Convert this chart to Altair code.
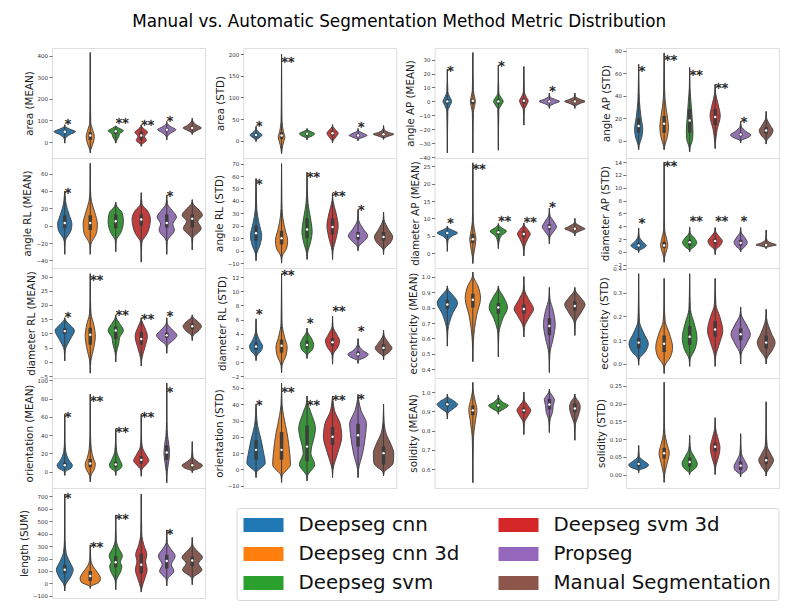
import altair as alt
import pandas as pd

TITLE = "Manual vs. Automatic Segmentation Method Metric Distribution"
METHODS = ["Deepseg cnn", "Deepseg cnn 3d", "Deepseg svm", "Deepseg svm 3d",
           "Propseg", "Manual Segmentation"]
VIOLIN_FILL = ["#3274a1", "#e1812c", "#3a923a", "#c03d3e", "#9372b2", "#845b53"]
LEGEND_FILL = ["#1f77b4", "#ff7f0e", "#2ca02c", "#d62728", "#9467bd", "#8c564b"]

# Each violin: (lower tip, [(value, half-width), ...], upper tip)
# Each box: (q1, median, q3)

# ---- area (MEAN)
AREA_MEAN_SHAPE = [
    (-5, [(15, .02), (35, .2), (48, .42), (60, .2), (72, .02)], 80),
    (-50, [(-35, .02), (-10, .1), (25, .16), (55, .1), (90, .02), (150, .012)], 415),
    (-5, [(5, .02), (25, .12), (38, .15), (52, .3), (65, .12), (72, .02)], 75),
    (-20, [(-12, .02), (8, .2), (26, .13), (45, .25), (62, .1), (72, .02)], 80),
    (10, [(25, .02), (45, .2), (57, .36), (70, .18), (85, .02)], 95),
    (35, [(42, .02), (55, .2), (65, .36), (78, .18), (98, .02)], 110),
]
AREA_MEAN_BOX = [(42, 48, 55), (10, 30, 45), (38, 50, 58), (10, 30, 48), (50, 57, 64), (58, 65, 72)]
AREA_MEAN_STARS = ["*", "", "**", "**", "*", ""]
AREA_MEAN_STAR_Y = [99, None, 105, 97, 116, None]
AREA_MEAN_TICKS = [0, 100, 200, 300, 400]

# ---- area (STD)
AREA_STD_SHAPE = [
    (-2, [(2, .02), (8, .15), (13, .24), (19, .12), (26, .02)], 33),
    (-30, [(-20, .02), (-3, .08), (8, .13), (22, .07), (45, .02), (80, .01)], 200),
    (2, [(6, .02), (11, .2), (16, .3), (21, .15), (25, .02)], 28),
    (-5, [(0, .02), (9, .14), (17, .22), (25, .12), (32, .02)], 37),
    (0, [(3, .02), (8, .2), (12, .35), (17, .2), (23, .02)], 28),
    (3, [(6, .02), (11, .22), (15, .4), (19, .2), (27, .02)], 35),
]
AREA_STD_BOX = [(9, 13, 17), (4, 12, 20), (12, 16, 19), (12, 17, 22), (9, 12, 15), (12, 15, 18)]
AREA_STD_STARS = ["*", "**", "", "", "*", ""]
AREA_STD_STAR_Y = [43, 189, None, None, 39, None]
AREA_STD_TICKS = [0, 50, 100, 150, 200]

# ---- angle AP (MEAN)
ANGLE_AP_MEAN_SHAPE = [
    (-37, [(-7, .02), (-3, .1), (0, .17), (3, .1), (7, .02)], 23),
    (-37, [(-8, .02), (-3, .07), (0, .1), (3, .07), (8, .02)], 35),
    (-35, [(-6, .02), (-2.5, .12), (0, .19), (2.5, .12), (6, .02)], 26),
    (-17, [(-6, .02), (-2.5, .11), (0.5, .17), (3, .1), (7, .02)], 25),
    (-5, [(-3.5, .02), (-1.5, .2), (0, .4), (1.5, .2), (3.5, .02)], 6),
    (-5, [(-3.5, .02), (-1.5, .2), (0, .4), (1.5, .2), (3.5, .02)], 6),
]
ANGLE_AP_MEAN_BOX = [(-1.5, 0, 1.5), (-2, 0.5, 2), (-1.5, 0, 1.5), (-1.5, 0.5, 2), (-1, 0, 1), (-1, 0, 1)]
ANGLE_AP_MEAN_STARS = ["*", "", "*", "", "*", ""]
ANGLE_AP_MEAN_STAR_Y = [24.6, None, 28.2, None, 10.3, None]
ANGLE_AP_MEAN_TICKS = [-40, -30, -20, -10, 0, 10, 20, 30]

# ---- angle AP (STD)
ANGLE_AP_STD_SHAPE = [
    (-8, [(-4, .02), (3, .12), (10, .16), (20, .1), (35, .03), (50, .012)], 68),
    (-8, [(-5, .02), (3, .12), (12, .17), (22, .12), (38, .03), (55, .012)], 78),
    (-10, [(-6, .02), (2, .12), (8, .13), (20, .1), (35, .05), (48, .012)], 65),
    (-7, [(0, .02), (10, .08), (22, .2), (32, .12), (42, .02)], 50),
    (-2, [(0, .02), (3, .3), (5, .4), (8, .22), (13, .02)], 17),
    (-3, [(0, .02), (5, .2), (9, .27), (14, .15), (20, .02)], 26),
]
ANGLE_AP_STD_BOX = [(7, 13, 20), (7, 15, 22), (7, 18, 28), (14, 21, 28), (4, 5.5, 7), (6, 9, 12)]
ANGLE_AP_STD_STARS = ["*", "**", "**", "**", "*", ""]
ANGLE_AP_STD_STAR_Y = [65.5, 75, 61.6, 49.8, 20, None]
ANGLE_AP_STD_TICKS = [0, 20, 40, 60, 80]

# ---- angle RL (MEAN)
ANGLE_RL_MEAN_SHAPE = [
    (-33, [(-18, .02), (-5, .25), (2, .28), (12, .18), (25, .05), (33, .02)], 40),
    (-33, [(-22, .02), (-8, .25), (2, .28), (15, .18), (28, .05), (40, .012)], 72),
    (-30, [(-17, .02), (-8, .2), (5, .3), (15, .25), (22, .05)], 27),
    (-42, [(-20, .02), (-8, .25), (8, .36), (17, .25), (25, .03)], 38),
    (-33, [(-18, .02), (-5, .3), (2, .24), (10, .38), (18, .2), (25, .03)], 35),
    (-28, [(-15, .02), (-3, .35), (5, .22), (12, .4), (20, .2), (26, .02)], 30),
]
ANGLE_RL_MEAN_BOX = [(-3, 3, 12), (-5, 3, 12), (-3, 5, 13), (0, 7, 13), (-2, 3, 13), (-2, 8, 13)]
ANGLE_RL_MEAN_STARS = ["*", "", "", "", "*", ""]
ANGLE_RL_MEAN_STAR_Y = [41.5, None, None, None, 37.7, None]
ANGLE_RL_MEAN_TICKS = [-40, -20, 0, 20, 40, 60]

# ---- angle RL (STD)
ANGLE_RL_STD_SHAPE = [
    (-8, [(-3, .02), (5, .16), (12, .22), (22, .12), (33, .03), (45, .012)], 58),
    (-10, [(-5, .02), (2, .2), (8, .24), (17, .14), (28, .04), (40, .012)], 70),
    (-7, [(-2, .02), (8, .15), (15, .2), (28, .12), (38, .04), (50, .012)], 63),
    (-7, [(0, .02), (10, .14), (20, .22), (30, .14), (40, .02)], 46),
    (0, [(3, .02), (8, .25), (12, .38), (17, .22), (25, .02)], 33),
    (-3, [(1, .02), (6, .25), (11, .36), (17, .2), (25, .02)], 31),
]
ANGLE_RL_STD_BOX = [(8, 14, 20), (5, 10, 16), (10, 17, 26), (13, 19, 26), (9, 12, 15), (8, 11, 15)]
ANGLE_RL_STD_STARS = ["*", "", "**", "**", "*", ""]
ANGLE_RL_STD_STAR_Y = [56.5, None, 61.9, 46.4, 35.6, None]
ANGLE_RL_STD_TICKS = [-10, 0, 10, 20, 30, 40, 50, 60, 70]

# ---- diameter AP (MEAN)
DIAM_AP_MEAN_SHAPE = [
    (0.5, [(3.5, .02), (5, .2), (5.8, .4), (6.6, .2), (7.3, .02)], 7.8),
    (-3, [(-1, .02), (2, .09), (4, .12), (6, .08), (9, .02), (12, .01)], 26),
    (1.3, [(3, .02), (5, .12), (6.3, .32), (7.2, .15), (8, .02)], 8.5),
    (-0.8, [(1.5, .02), (4, .15), (5.5, .25), (6.8, .15), (8, .02)], 8.7),
    (2.7, [(4.5, .02), (6.5, .2), (7.5, .28), (9, .18), (11, .02)], 13),
    (5, [(5.6, .02), (6.5, .25), (7, .4), (7.6, .25), (8.8, .02)], 10),
]
DIAM_AP_MEAN_BOX = [(5.4, 5.8, 6.2), (2.8, 4, 5.5), (5.3, 6, 6.6), (4.5, 5.5, 6.3), (6.7, 7.5, 8.3), (6.6, 7, 7.4)]
DIAM_AP_MEAN_STARS = ["*", "**", "**", "**", "*", ""]
DIAM_AP_MEAN_STAR_Y = [9.6, 25.3, 10.3, 9.9, 14.4, None]
DIAM_AP_MEAN_TICKS = [0, 5, 10, 15, 20, 25]

# ---- diameter AP (STD)
DIAM_AP_STD_SHAPE = [
    (-0.1, [(0.2, .02), (0.6, .2), (1, .3), (1.6, .15), (2.5, .02)], 3.7),
    (-1.6, [(-0.8, .02), (0.3, .1), (1, .14), (2, .1), (3.5, .02), (6, .01)], 14),
    (0, [(0.3, .02), (0.9, .2), (1.5, .28), (2.1, .2), (3, .02)], 3.9),
    (-0.4, [(0.3, .02), (1, .2), (1.7, .28), (2.4, .16), (3.2, .02)], 3.8),
    (0, [(0.3, .02), (0.9, .18), (1.5, .26), (2.2, .17), (3.1, .02)], 3.8),
    (0.5, [(0.7, .02), (0.95, .25), (1.1, .4), (1.35, .22), (2, .02)], 3.4),
]
DIAM_AP_STD_BOX = [(0.7, 1, 1.4), (0.6, 1, 1.6), (1, 1.5, 1.9), (1.2, 1.7, 2.1), (1, 1.4, 1.9), (0.95, 1.1, 1.3)]
DIAM_AP_STD_STARS = ["*", "**", "**", "**", "*", ""]
DIAM_AP_STD_STAR_Y = [5.1, 14, 5.4, 5.3, 5.3, None]
DIAM_AP_STD_TICKS = [-2, 0, 2, 4, 6, 8, 10, 12, 14]

# ---- diameter RL (MEAN)
DIAM_RL_MEAN_SHAPE = [
    (0.3, [(4, .02), (8, .22), (11, .38), (13, .2), (14.8, .02)], 15.5),
    (-4, [(0, .02), (5, .14), (9, .2), (13, .14), (17, .03), (22, .01)], 31),
    (0, [(3, .02), (6.5, .12), (8.5, .15), (11, .3), (13.5, .15), (15.5, .02)], 16.5),
    (-1.5, [(1, .02), (5, .14), (9, .24), (12, .14), (14.5, .02)], 15.5),
    (3, [(5.5, .02), (8, .3), (9.3, .4), (11, .25), (13.5, .02)], 15.5),
    (7.5, [(9, .02), (11, .26), (12.5, .36), (14, .24), (15.8, .02)], 16.5),
]
DIAM_RL_MEAN_BOX = [(9.8, 10.8, 11.8), (6, 9.5, 12), (8, 11, 12.5), (6, 8, 10.5), (8.5, 9.3, 10.3), (11.5, 12.5, 13.5)]
DIAM_RL_MEAN_STARS = ["*", "**", "**", "**", "*", ""]
DIAM_RL_MEAN_STAR_Y = [17.1, 30, 17.6, 16.2, 17.4, None]
DIAM_RL_MEAN_TICKS = [-5, 0, 5, 10, 15, 20, 25, 30]

# ---- diameter RL (STD)
DIAM_RL_STD_SHAPE = [
    (0.2, [(0.8, .02), (1.6, .2), (2.2, .26), (3, .15), (4.3, .02)], 6.1),
    (-1.5, [(-0.5, .02), (1, .18), (2.1, .22), (3.5, .12), (5.5, .02), (8, .01)], 12.5),
    (0.5, [(1, .02), (1.8, .22), (2.5, .26), (3.3, .18), (4.3, .02)], 4.8),
    (-0.3, [(1, .02), (2.2, .22), (3, .28), (3.8, .18), (5, .02)], 6.5),
    (-0.2, [(0.2, .02), (0.7, .3), (1.1, .4), (1.6, .2), (2.5, .02)], 3.3),
    (0.3, [(0.8, .02), (1.5, .25), (2, .33), (2.6, .22), (3.8, .02)], 4.5),
]
DIAM_RL_STD_BOX = [(1.7, 2.2, 2.8), (1.3, 2.3, 3.2), (1.9, 2.4, 3), (2.3, 2.8, 3.4), (0.8, 1.1, 1.5), (1.6, 2, 2.5)]
DIAM_RL_STD_STARS = ["*", "**", "*", "**", "*", ""]
DIAM_RL_STD_STAR_Y = [7.25, 12.8, 6.0, 7.7, 4.9, None]
DIAM_RL_STD_TICKS = [-2, 0, 2, 4, 6, 8, 10, 12]

# ---- eccentricity (MEAN)
ECC_MEAN_SHAPE = [
    (0.55, [(0.65, .02), (0.76, .2), (0.83, .4), (0.88, .22), (0.92, .02)], 0.94),
    (0.45, [(0.58, .02), (0.75, .15), (0.86, .3), (0.94, .2), (1.0, .02)], 1.03),
    (0.48, [(0.63, .02), (0.73, .18), (0.8, .36), (0.87, .2), (0.92, .02)], 0.94),
    (0.61, [(0.67, .02), (0.74, .22), (0.79, .38), (0.85, .2), (0.92, .02)], 1.0),
    (0.38, [(0.5, .02), (0.6, .15), (0.69, .23), (0.78, .15), (0.86, .02)], 0.93),
    (0.62, [(0.7, .02), (0.77, .25), (0.82, .4), (0.86, .25), (0.91, .02)], 0.93),
]
ECC_MEAN_BOX = [(0.79, 0.82, 0.85), (0.8, 0.85, 0.89), (0.76, 0.8, 0.83), (0.76, 0.79, 0.82), (0.62, 0.68, 0.73), (0.78, 0.81, 0.84)]
ECC_MEAN_STARS = ["", "", "", "", "", ""]
ECC_MEAN_STAR_Y = [None, None, None, None, None, None]
ECC_MEAN_TICKS = [0.4, 0.5, 0.6, 0.7, 0.8, 0.9, 1.0]

# ---- eccentricity (STD)
ECC_STD_SHAPE = [
    (-0.005, [(0.02, .02), (0.05, .25), (0.085, .38), (0.13, .2), (0.18, .03), (0.25, .012)], 0.38),
    (-0.04, [(-0.01, .02), (0.03, .25), (0.07, .33), (0.13, .2), (0.18, .04), (0.24, .012)], 0.36),
    (-0.01, [(0.02, .02), (0.06, .2), (0.11, .29), (0.17, .18), (0.23, .03), (0.29, .012)], 0.38),
    (-0.01, [(0.03, .02), (0.09, .18), (0.14, .3), (0.2, .18), (0.25, .03)], 0.36),
    (0.0, [(0.04, .02), (0.09, .25), (0.125, .38), (0.16, .25), (0.21, .02)], 0.24),
    (0.0, [(0.02, .02), (0.06, .25), (0.09, .35), (0.13, .2), (0.19, .02)], 0.23),
]
ECC_STD_BOX = [(0.065, 0.09, 0.11), (0.05, 0.085, 0.12), (0.08, 0.115, 0.16), (0.115, 0.145, 0.18), (0.1, 0.125, 0.15), (0.065, 0.09, 0.12)]
ECC_STD_STARS = ["", "", "", "", "", ""]
ECC_STD_STAR_Y = [None, None, None, None, None, None]
ECC_STD_TICKS = [0.0, 0.1, 0.2, 0.3, 0.4]

# ---- orientation (MEAN)
ORI_MEAN_SHAPE = [
    (-4, [(0, .02), (4, .25), (7, .3), (12, .18), (22, .04), (32, .012)], 63),
    (-11, [(-5, .02), (3, .16), (8, .2), (15, .12), (25, .04), (40, .012)], 85),
    (-4, [(0, .02), (4, .2), (7, .25), (13, .16), (22, .04), (32, .012)], 47),
    (-5, [(2, .02), (8, .2), (12, .3), (18, .2), (27, .04), (36, .012)], 63),
    (-12, [(0, .02), (10, .07), (20, .11), (30, .08), (40, .03), (55, .01)], 97),
    (-1, [(1, .02), (4, .3), (7, .4), (10, .25), (16, .03), (24, .01)], 33),
]
ORI_MEAN_BOX = [(5, 7, 10), (5, 9, 14), (5, 8, 11), (9, 13, 17), (13, 21, 29), (5, 7, 9)]
ORI_MEAN_STARS = ["*", "**", "**", "**", "*", ""]
ORI_MEAN_STAR_Y = [63.5, 81.4, 47.8, 63.5, 91.6, None]
ORI_MEAN_TICKS = [0, 20, 40, 60, 80, 100]

# ---- orientation (STD)
ORI_STD_SHAPE = [
    (-5, [(-2, .02), (4, .36), (10, .3), (18, .2), (27, .06), (33, .02)], 40),
    (-8, [(-4, .02), (3, .35), (10, .32), (22, .22), (33, .08), (40, .02)], 53),
    (-7, [(-4, .02), (3, .3), (10, .15), (25, .33), (35, .15), (41, .02)], 45),
    (-5, [(0, .02), (10, .2), (20, .36), (28, .3), (36, .08), (42, .02)], 45),
    (-5, [(0, .02), (10, .18), (22, .3), (28, .33), (36, .12), (43, .02)], 46),
    (-4, [(-2, .02), (4, .38), (10, .4), (15, .3), (22, .1), (30, .02)], 40),
]
ORI_STD_BOX = [(6, 12, 18), (6, 12, 23), (5, 14, 27), (15, 20, 26), (14, 21, 28), (3, 10, 14)]
ORI_STD_STARS = ["*", "**", "**", "**", "*", ""]
ORI_STD_STAR_Y = [41.7, 49.9, 41.7, 44.8, 45.4, None]
ORI_STD_TICKS = [-10, 0, 10, 20, 30, 40, 50]

# ---- solidity (MEAN)
SOL_MEAN_SHAPE = [
    (0.86, [(0.89, .02), (0.915, .25), (0.935, .4), (0.955, .25), (0.975, .02)], 0.99),
    (0.53, [(0.75, .02), (0.85, .1), (0.91, .16), (0.95, .1), (1.0, .02)], 1.05),
    (0.885, [(0.895, .02), (0.915, .25), (0.93, .39), (0.945, .2), (0.97, .02)], 0.985),
    (0.78, [(0.84, .02), (0.88, .18), (0.905, .27), (0.93, .16), (0.96, .02)], 1.0),
    (0.79, [(0.85, .02), (0.9, .13), (0.93, .15), (0.96, .2), (0.98, .12), (1.0, .02)], 1.015),
    (0.75, [(0.83, .02), (0.88, .14), (0.92, .21), (0.95, .15), (0.975, .02)], 0.99),
]
SOL_MEAN_BOX = [(0.925, 0.937, 0.95), (0.88, 0.905, 0.93), (0.92, 0.93, 0.94), (0.89, 0.905, 0.92), (0.91, 0.935, 0.965), (0.895, 0.915, 0.94)]
SOL_MEAN_STARS = ["", "", "", "", "", ""]
SOL_MEAN_STAR_Y = [None, None, None, None, None, None]
SOL_MEAN_TICKS = [0.6, 0.7, 0.8, 0.9, 1.0]

# ---- solidity (STD)
SOL_STD_SHAPE = [
    (0.005, [(0.012, .02), (0.02, .3), (0.027, .39), (0.036, .25), (0.05, .03), (0.065, .01)], 0.082),
    (-0.022, [(0.0, .02), (0.035, .13), (0.06, .2), (0.085, .12), (0.115, .03), (0.15, .01)], 0.26),
    (0.0, [(0.005, .02), (0.02, .25), (0.03, .3), (0.05, .18), (0.07, .04), (0.09, .01)], 0.11),
    (0.0, [(0.02, .02), (0.055, .15), (0.075, .19), (0.1, .12), (0.13, .02)], 0.16),
    (-0.007, [(0.0, .02), (0.012, .22), (0.022, .26), (0.04, .15), (0.06, .03), (0.085, .01)], 0.115),
    (-0.004, [(0.005, .02), (0.025, .2), (0.04, .29), (0.058, .18), (0.08, .04), (0.12, .01)], 0.205),
]
SOL_STD_BOX = [(0.022, 0.03, 0.036), (0.045, 0.06, 0.075), (0.022, 0.035, 0.048), (0.065, 0.078, 0.09), (0.013, 0.025, 0.037), (0.03, 0.04, 0.05)]
SOL_STD_STARS = ["", "", "", "", "", ""]
SOL_STD_STAR_Y = [None, None, None, None, None, None]
SOL_STD_TICKS = [0.0, 0.05, 0.10, 0.15, 0.20, 0.25]

# ---- length (SUM)
LEN_SUM_SHAPE = [
    (-60, [(-20, .02), (60, .25), (110, .33), (170, .2), (250, .05), (350, .012)], 720),
    (-40, [(-25, .02), (10, .35), (40, .4), (90, .28), (140, .1), (200, .02)], 310),
    (-50, [(20, .02), (100, .2), (140, .24), (170, .18), (220, .26), (290, .1), (350, .02)], 550),
    (-70, [(-40, .02), (40, .14), (110, .23), (180, .17), (230, .22), (310, .1), (400, .02)], 720),
    (-20, [(30, .02), (100, .28), (150, .18), (220, .33), (280, .15), (330, .02)], 430),
    (-10, [(40, .02), (110, .38), (160, .24), (210, .4), (260, .2), (310, .02)], 370),
]
LEN_SUM_BOX = [(80, 110, 150), (20, 60, 100), (130, 170, 220), (80, 150, 240), (120, 180, 230), (140, 185, 215)]
LEN_SUM_STARS = ["*", "**", "**", "", "*", ""]
LEN_SUM_STAR_Y = [714, 325, 545, None, 427, None]
LEN_SUM_TICKS = [-100, 0, 100, 200, 300, 400, 500, 600, 700]

# panel order (row by row, 4 columns) with y-scale domain and tick format
PANELS = [
    ("area (MEAN)", AREA_MEAN_SHAPE, AREA_MEAN_BOX, AREA_MEAN_STARS, AREA_MEAN_STAR_Y, AREA_MEAN_TICKS, (-74, 436), "d"),
    ("area (STD)", AREA_STD_SHAPE, AREA_STD_BOX, AREA_STD_STARS, AREA_STD_STAR_Y, AREA_STD_TICKS, (-40, 214), "d"),
    ("angle AP (MEAN)", ANGLE_AP_MEAN_SHAPE, ANGLE_AP_MEAN_BOX, ANGLE_AP_MEAN_STARS, ANGLE_AP_MEAN_STAR_Y, ANGLE_AP_MEAN_TICKS, (-40.6, 38.3), "d"),
    ("angle AP (STD)", ANGLE_AP_STD_SHAPE, ANGLE_AP_STD_BOX, ANGLE_AP_STD_STARS, ANGLE_AP_STD_STAR_Y, ANGLE_AP_STD_TICKS, (-15.4, 82.4), "d"),
    ("angle RL (MEAN)", ANGLE_RL_MEAN_SHAPE, ANGLE_RL_MEAN_BOX, ANGLE_RL_MEAN_STARS, ANGLE_RL_MEAN_STAR_Y, ANGLE_RL_MEAN_TICKS, (-48.8, 78), "d"),
    ("angle RL (STD)", ANGLE_RL_STD_SHAPE, ANGLE_RL_STD_BOX, ANGLE_RL_STD_STARS, ANGLE_RL_STD_STAR_Y, ANGLE_RL_STD_TICKS, (-13.9, 74.5), "d"),
    ("diameter AP (MEAN)", DIAM_AP_MEAN_SHAPE, DIAM_AP_MEAN_BOX, DIAM_AP_MEAN_STARS, DIAM_AP_MEAN_STAR_Y, DIAM_AP_MEAN_TICKS, (-4.3, 27.4), "d"),
    ("diameter AP (STD)", DIAM_AP_STD_SHAPE, DIAM_AP_STD_BOX, DIAM_AP_STD_STARS, DIAM_AP_STD_STAR_Y, DIAM_AP_STD_TICKS, (-2.5, 14.65), "d"),
    ("diameter RL (MEAN)", DIAM_RL_MEAN_SHAPE, DIAM_RL_MEAN_BOX, DIAM_RL_MEAN_STARS, DIAM_RL_MEAN_STAR_Y, DIAM_RL_MEAN_TICKS, (-5.7, 33), "d"),
    ("diameter RL (STD)", DIAM_RL_STD_SHAPE, DIAM_RL_STD_BOX, DIAM_RL_STD_STARS, DIAM_RL_STD_STAR_Y, DIAM_RL_STD_TICKS, (-2.26, 13.3), "d"),
    ("eccentricity (MEAN)", ECC_MEAN_SHAPE, ECC_MEAN_BOX, ECC_MEAN_STARS, ECC_MEAN_STAR_Y, ECC_MEAN_TICKS, (0.344, 1.056), ".1f"),
    ("eccentricity (STD)", ECC_STD_SHAPE, ECC_STD_BOX, ECC_STD_STARS, ECC_STD_STAR_Y, ECC_STD_TICKS, (-0.059, 0.404), ".1f"),
    ("orientation (MEAN)", ORI_MEAN_SHAPE, ORI_MEAN_BOX, ORI_MEAN_STARS, ORI_MEAN_STAR_Y, ORI_MEAN_TICKS, (-17.8, 102.6), "d"),
    ("orientation (STD)", ORI_STD_SHAPE, ORI_STD_BOX, ORI_STD_STARS, ORI_STD_STAR_Y, ORI_STD_TICKS, (-11.4, 56.1), "d"),
    ("solidity (MEAN)", SOL_MEAN_SHAPE, SOL_MEAN_BOX, SOL_MEAN_STARS, SOL_MEAN_STAR_Y, SOL_MEAN_TICKS, (0.502, 1.073), ".1f"),
    ("solidity (STD)", SOL_STD_SHAPE, SOL_STD_BOX, SOL_STD_STARS, SOL_STD_STAR_Y, SOL_STD_TICKS, (-0.038, 0.272), ".2f"),
    ("length (SUM)", LEN_SUM_SHAPE, LEN_SUM_BOX, LEN_SUM_STARS, LEN_SUM_STAR_Y, LEN_SUM_TICKS, (-117.6, 768), "d"),
]

DARK = "#3d3d3d"
FONT = "DejaVu Sans"


def build_panel(title, shape, box, stars, star_y, ticks, dom, fmt, with_legend=False):
    vrows = []
    for i, (lo, knots, hi) in enumerate(shape):
        pts = [(lo, 0.0)] + list(knots) + [(hi, 0.0)]
        for k, (y, w) in enumerate(pts):
            vrows.append(dict(slot=i, c=i + 0.5, y=y, w=w, k=k))
    vdf = pd.DataFrame(vrows)
    bdf = pd.DataFrame([dict(c=i + 0.5, q1=b[0], med=b[1], q3=b[2], lo=s[0], hi=s[2])
                        for i, (b, s) in enumerate(zip(box, shape))])
    srows = [dict(c=i + 0.5, y=sy, star=st)
             for i, (st, sy) in enumerate(zip(stars, star_y)) if st]

    xs = alt.Scale(domain=[0, 6], nice=False, zero=False)
    ys = alt.Scale(domain=list(dom), nice=False, zero=False)
    ax = alt.Axis(title=title, values=ticks, format=fmt, grid=False, domain=False,
                  tickSize=3, tickWidth=0.7, tickColor="#333333",
                  labelFontSize=5.5, labelColor="#333333", labelPadding=1.5,
                  labelOverlap=False, labelFont=FONT,
                  titleFontSize=10.3, titleFontWeight="normal", titleColor="#1a1a1a",
                  titlePadding=3, titleFont=FONT)
    # violins coloured by method slot (0..5, same order as METHODS)
    fill = alt.Fill("slot:N", scale=alt.Scale(domain=list(range(len(METHODS))), range=VIOLIN_FILL),
                    legend=None)

    violins = alt.Chart(vdf).transform_calculate(
        xl="datum.c - datum.w", xr="datum.c + datum.w"
    ).mark_area(orient="horizontal", interpolate="monotone", stroke=DARK,
                strokeWidth=0.9, clip=True).encode(
        y=alt.Y("y:Q", scale=ys, axis=ax),
        x=alt.X("xl:Q", scale=xs, axis=None, stack=None),
        x2="xr:Q",
        fill=fill,
    )
    whisker = alt.Chart(bdf).mark_rule(color=DARK, strokeWidth=1, clip=True).encode(
        x=alt.X("c:Q", scale=xs, axis=None),
        y=alt.Y("lo:Q", scale=ys, axis=ax), y2="hi:Q",
    )
    iqr = alt.Chart(bdf).mark_rule(color=DARK, strokeWidth=3.5, clip=True).encode(
        x=alt.X("c:Q", scale=xs, axis=None),
        y=alt.Y("q1:Q", scale=ys, axis=ax), y2="q3:Q",
    )
    med = alt.Chart(bdf).mark_circle(color="white", opacity=1, size=6).encode(
        x=alt.X("c:Q", scale=xs, axis=None),
        y=alt.Y("med:Q", scale=ys, axis=ax),
    )
    layers = [violins, whisker, iqr, med]
    if srows:
        stars_layer = alt.Chart(pd.DataFrame(srows)).mark_text(
            align="left", baseline="alphabetic", dy=7.5, fontSize=13, font=FONT,
            fill="#1f1f1f", stroke="#1f1f1f", strokeWidth=0.35).encode(
            x=alt.X("c:Q", scale=xs, axis=None),
            y=alt.Y("y:Q", scale=ys, axis=ax),
            text="star:N",
        )
        layers.append(stars_layer)
    if with_legend:
        dummy = alt.Chart(pd.DataFrame({"entry": METHODS})).transform_filter("false").mark_square().encode(
            color=alt.Color("entry:N",
                            scale=alt.Scale(domain=METHODS, range=LEGEND_FILL),
                            legend=alt.Legend(
                                title=None, orient="none", legendX=184.5, legendY=460,
                                columns=2, direction="vertical",
                                symbolType="M-1,-0.7H3V0.7H-1Z", symbolSize=400,
                                symbolStrokeWidth=0, symbolOpacity=1,
                                labelFontSize=19.8, labelFont=FONT, labelColor="#111111",
                                labelOffset=35, labelLimit=400,
                                rowPadding=9, columnPadding=39, padding=7,
                                strokeColor="#d6d6d6", fillColor="white", cornerRadius=3)),
        )
        layers.append(dummy)
    return alt.layer(*layers).properties(width=153, height=110)


charts = [build_panel(*p, with_legend=(i == len(PANELS) - 1)) for i, p in enumerate(PANELS)]

chart = alt.concat(*charts, columns=4, spacing={"row": 0, "column": 38.3}, bounds="flush").properties(
    title=alt.TitleParams(TITLE, fontSize=16.8, font=FONT, fontWeight="normal", color="black",
                          anchor="middle", offset=17),
    padding={"left": 10, "top": 5, "right": 5, "bottom": 5},
).configure_view(stroke="#808080", strokeWidth=1).configure(font=FONT)

chart.save("out.html", embed_options={"renderer": "svg", "actions": False})
